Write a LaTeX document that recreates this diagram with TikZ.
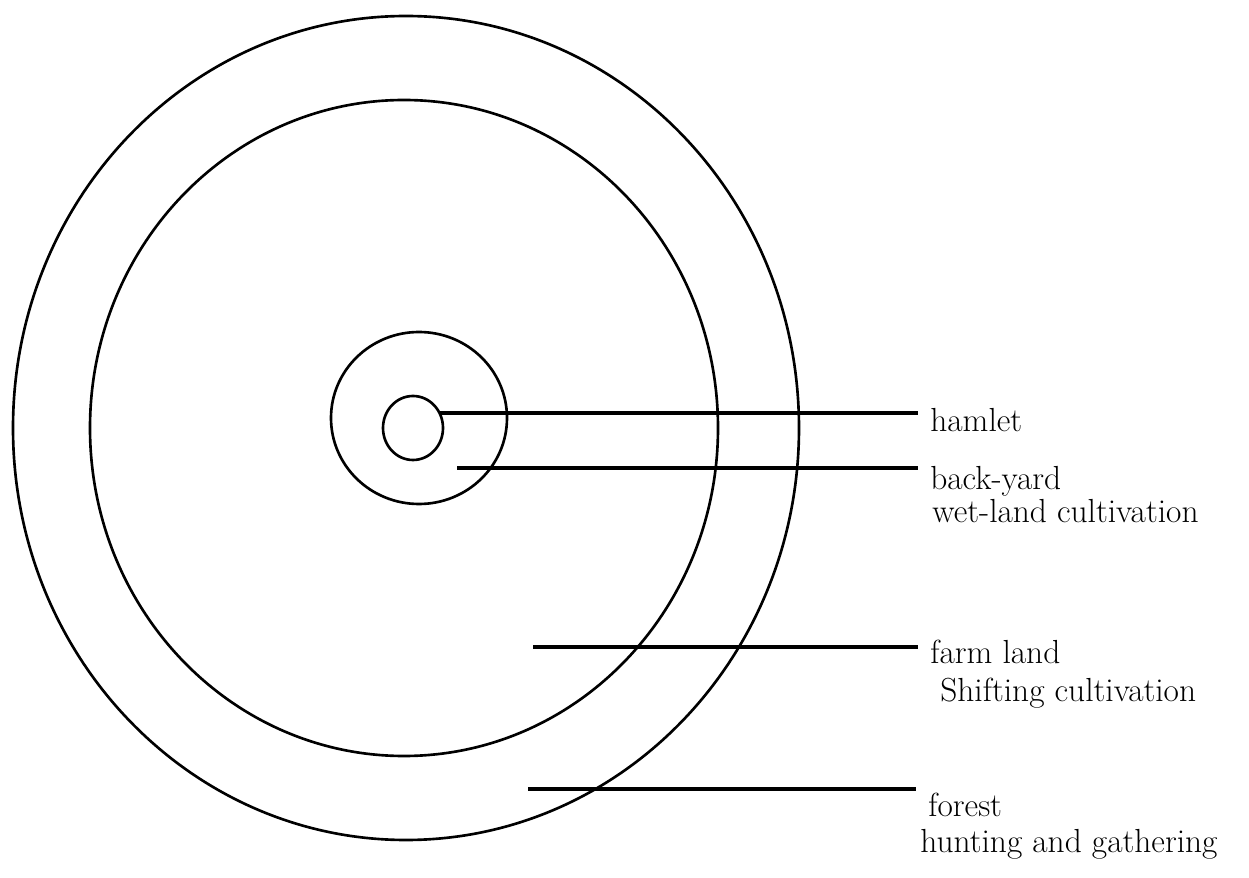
\documentclass[tikz,border=0pt]{standalone}
\begin{document}
\begin{tikzpicture}[x=0.02cm, y=-0.02cm,
    ring/.style={black, line width=1.5pt},
    lead/.style={black, line width=1.8pt},
    zone/.style={anchor=base west, inner xsep=0.24cm, inner ysep=0pt, font=\fontsize{19}{22}\selectfont}]
    \useasboundingbox (0,0) rectangle (1249,878);
    % rings
    \draw[ring] (406,428) ellipse [x radius=393, y radius=412];
    \draw[ring] (404,428) ellipse [x radius=314, y radius=328];
    \draw[ring] (419,418) ellipse [x radius=88, y radius=86];
    \draw[ring] (413,428) ellipse [x radius=30, y radius=32];
    % start points of the leaders
    \coordinate (h0) at (440,413);
    \coordinate (b0) at (457,468);
    \coordinate (f0) at (533,647);
    \coordinate (o0) at (528,789);
    % labels
    \node[zone] (hamlet) at (918,432) {hamlet};
    \node[zone] (backyard) at (918,490) {back-yard};
    \node[zone] (wetland) at (920,523) {wet-land cultivation};
    \node[zone] (farmland) at (918,664) {farm land};
    \node[zone] (shifting) at (928,702) {Shifting cultivation};
    \node[zone] (forest) at (916,817) {forest};
    \node[zone] (hunting) at (908,852) {hunting and gathering};
    % leaders
    \draw[lead] (h0) -- (h0 -| hamlet.west);
    \draw[lead] (b0) -- (b0 -| backyard.west);
    \draw[lead] (f0) -- (f0 -| farmland.west);
    \draw[lead] (o0) -- (o0 -| forest.west);
\end{tikzpicture}
\end{document}
